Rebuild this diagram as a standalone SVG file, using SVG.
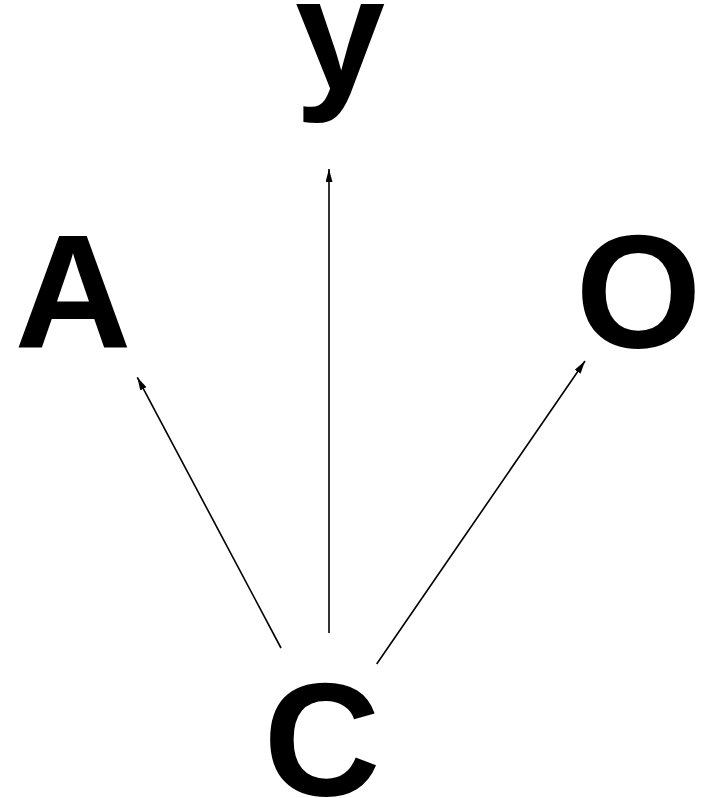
<svg xmlns="http://www.w3.org/2000/svg" width="701" height="798" viewBox="0 0 701 798">
<style>
.lbl{font-family:"Liberation Sans",Arial,sans-serif;font-weight:bold;font-size:162px;fill:#000;text-anchor:middle}
.edge{stroke:#000;stroke-width:1.6;fill:none;marker-end:url(#ah)}
</style>
<defs>
<marker id="ah" markerUnits="userSpaceOnUse" markerWidth="14" markerHeight="8" refX="13" refY="3.5" orient="auto">
<path d="M0,0 L13,3.5 L0,7 Z" fill="#000"/>
</marker>
</defs>
<rect width="701" height="798" fill="#fff"/>
<g id="edges">
<line class="edge" x1="329" y1="633" x2="329" y2="169"/>
<line class="edge" x1="281" y1="648" x2="137.3" y2="377.3"/>
<line class="edge" x1="376.7" y1="664" x2="585" y2="361"/>
</g>
<g id="node-y"><text class="lbl" x="340" y="89">y</text></g>
<g id="node-A"><text class="lbl" x="73" y="347">A</text></g>
<g id="node-O"><text class="lbl" x="638.5" y="347">O</text></g>
<g id="node-C"><text class="lbl" x="322" y="795">C</text></g>
</svg>
